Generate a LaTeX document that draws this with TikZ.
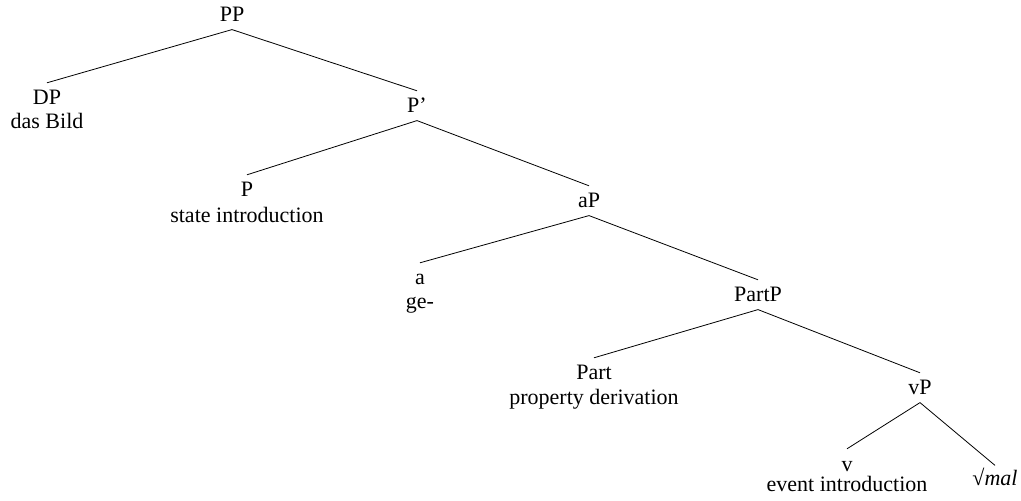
\documentclass[tikz,border=0pt]{standalone}
\usepackage{fontspec}
\setmainfont{Liberation Serif}
\tikzset{
  cat/.style={anchor=base, inner xsep=0pt, inner ysep=3.6pt, text height=7.3pt, text depth=0pt},
  leaf/.style={cat, inner ysep=0pt, text height=10.9pt},
  gloss/.style={anchor=base, inner sep=0pt}
}
\begin{document}
\begin{tikzpicture}[x=.5pt, y=-.5pt, font=\fontsize{11}{13}\selectfont]
        \useasboundingbox (0,0) rectangle (1021,501);
        \node[cat] (pp) at (232,22) {PP};
        \node[cat] (dp) at (47,105) {DP};
        \node[gloss] (dpg) at (47,129) {das Bild};
        \node[cat] (pbar) at (417,113) {P'};
        \node[cat] (p) at (247,197) {P};
        \node[gloss] (pg) at (247,223) {state introduction};
        \node[cat] (ap) at (589,208) {aP};
        \node[cat] (a) at (420,285) {a};
        \node[gloss] (ag) at (420,309) {ge-};
        \node[cat] (partp) at (758,302) {PartP};
        \node[cat] (part) at (594,380) {Part};
        \node[gloss] (partg) at (594,405) {property derivation};
        \node[cat] (vp) at (920,395) {vP};
        \node[leaf] (v) at (847,471) {v};
        \node[gloss] (vg) at (847,491) {event introduction};
        \node[cat, text height=6pt] (root) at (995,485) {√\textit{mal}};
        \draw (pp.south) -- (dp.north);
        \draw (pp.south) -- (pbar.north);
        \draw (pbar.south) -- (p.north);
        \draw (pbar.south) -- (ap.north);
        \draw (ap.south) -- (a.north);
        \draw (ap.south) -- (partp.north);
        \draw (partp.south) -- (part.north);
        \draw (partp.south) -- (vp.north);
        \draw (vp.south) -- (v.north);
        \draw (vp.south) -- (root.north);
    \end{tikzpicture}
\end{document}
